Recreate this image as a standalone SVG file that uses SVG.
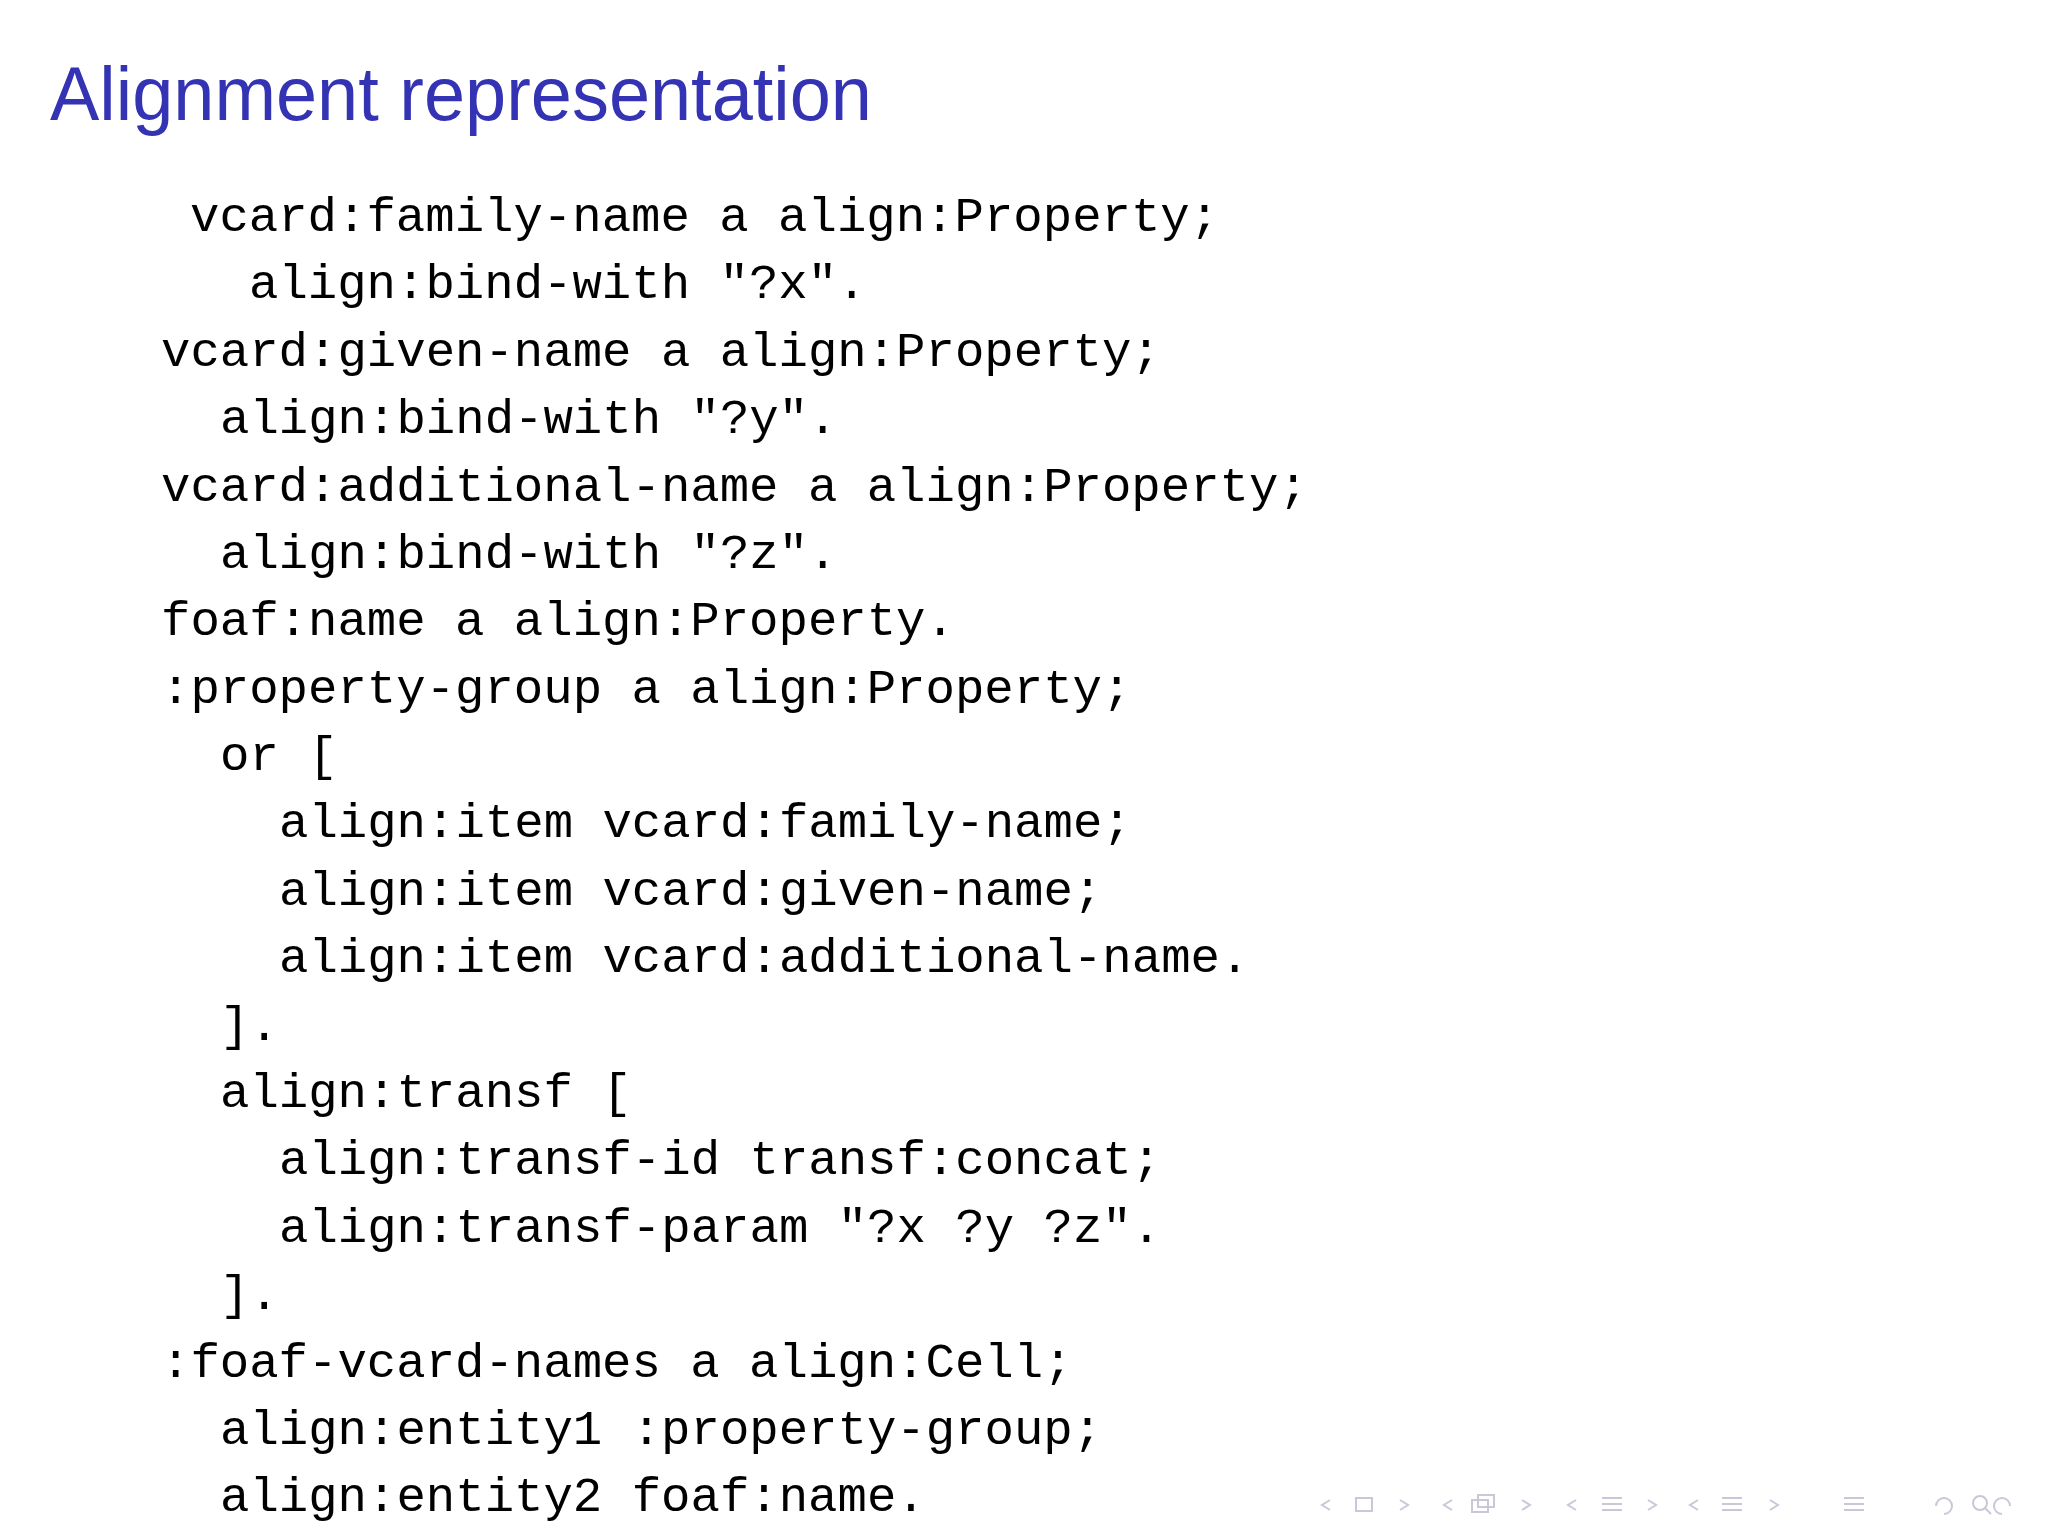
<svg xmlns="http://www.w3.org/2000/svg" width="2048" height="1536" viewBox="0 0 2048 1536">
<style>
.t{font-family:"Liberation Sans","DejaVu Sans",sans-serif;font-size:76px;fill:#3333b3}
.c{font-family:"Liberation Mono","DejaVu Sans Mono",monospace;font-size:49px;fill:#000}
.n{fill:none;stroke:#c8c8d8;stroke-width:2}
</style>
<rect width="2048" height="1536" fill="#fff"/>
<text class="t" x="50" y="120" textLength="822" lengthAdjust="spacingAndGlyphs">Alignment representation</text>
<g id="code">
<text class="c" x="190" y="231">vcard:family-name a align:Property;</text>
<text class="c" x="249" y="298">align:bind-with "?x".</text>
<text class="c" x="161" y="366">vcard:given-name a align:Property;</text>
<text class="c" x="220" y="433">align:bind-with "?y".</text>
<text class="c" x="161" y="501">vcard:additional-name a align:Property;</text>
<text class="c" x="220" y="568">align:bind-with "?z".</text>
<text class="c" x="161" y="635">foaf:name a align:Property.</text>
<text class="c" x="161" y="703">:property-group a align:Property;</text>
<text class="c" x="220" y="770">or [</text>
<text class="c" x="279" y="837">align:item vcard:family-name;</text>
<text class="c" x="279" y="905">align:item vcard:given-name;</text>
<text class="c" x="279" y="972">align:item vcard:additional-name.</text>
<text class="c" x="220" y="1040">].</text>
<text class="c" x="220" y="1107">align:transf [</text>
<text class="c" x="279" y="1174">align:transf-id transf:concat;</text>
<text class="c" x="279" y="1242">align:transf-param "?x ?y ?z".</text>
<text class="c" x="220" y="1309">].</text>
<text class="c" x="161" y="1377">:foaf-vcard-names a align:Cell;</text>
<text class="c" x="220" y="1444">align:entity1 :property-group;</text>
<text class="c" x="220" y="1511">align:entity2 foaf:name.</text>
</g>
<g id="nav" class="n">
<path d="M1330 1500 l-8 5 l8 5"/><rect x="1356" y="1498" width="16" height="13"/><path d="M1400 1500 l8 5 l-8 5"/>
<path d="M1452 1500 l-8 5 l8 5"/><rect x="1472" y="1500" width="16" height="12"/><rect x="1478" y="1495" width="16" height="12"/><path d="M1522 1500 l8 5 l-8 5"/>
<path d="M1576 1500 l-8 5 l8 5"/><path d="M1602 1498 h20 M1602 1504 h20 M1602 1510 h20"/><path d="M1648 1500 l8 5 l-8 5"/>
<path d="M1698 1500 l-8 5 l8 5"/><path d="M1722 1498 h20 M1722 1504 h20 M1722 1510 h20"/><path d="M1770 1500 l8 5 l-8 5"/>
<path d="M1844 1498 h20 M1844 1504 h20 M1844 1510 h20"/>
<path d="M1936 1506 a8 8 0 1 1 8 8"/><circle cx="1980" cy="1503" r="7"/><path d="M1985 1508 l6 6"/><path d="M2010 1506 a8 8 0 1 0 -8 8"/>
</g>
</svg>
